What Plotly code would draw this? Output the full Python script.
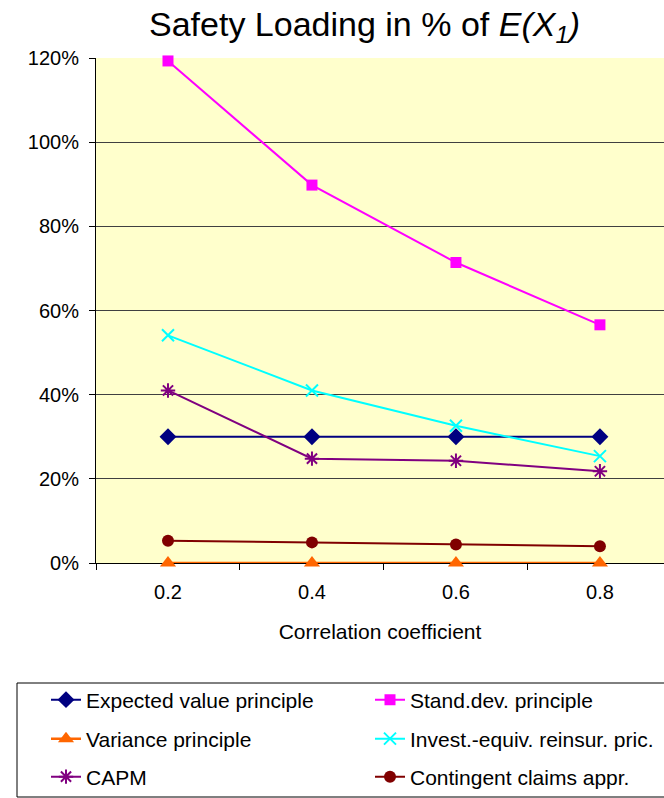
import plotly.graph_objects as go

# Correlation coefficients on the x axis
correlation = [0.2, 0.4, 0.6, 0.8]

# Safety loading (% of E(X1)) per pricing principle
expected_value = [30.0, 30.0, 30.0, 30.0]
stand_dev = [119.3, 89.8, 71.4, 56.6]
variance = [0.0, 0.0, 0.0, 0.0]
invest_equiv = [54.1, 41.0, 32.6, 25.4]
capm = [41.0, 24.8, 24.3, 21.8]
contingent = [5.3, 4.9, 4.4, 4.0]

y_ticks = [0, 20, 40, 60, 80, 100, 120]
y_tick_labels = ["0%", "20%", "40%", "60%", "80%", "100%", "120%"]
x_tick_labels = ["0.2", "0.4", "0.6", "0.8"]

FONT = "Arial, 'Liberation Sans', sans-serif"

# name, values, colour, marker symbol, marker size, line width, legend row
series = [
    ("Expected value principle", expected_value, "#000080", "diamond", 13, 2, "legend"),
    ("Stand.dev. principle", stand_dev, "#FF00FF", "square", 11, 2, "legend"),
    ("Variance principle", variance, "#FF6600", "triangle-up", 14, 2.5, "legend2"),
    ("Invest.-equiv. reinsur. pric.", invest_equiv, "#00FFFF", "x-thin-open", 12, 2, "legend2"),
    ("CAPM", capm, "#800080", "asterisk-open", 12, 2, "legend3"),
    ("Contingent claims appr.", contingent, "#800000", "circle", 12, 2, "legend3"),
]

fig = go.Figure()
for name, values, color, symbol, size, lw, leg in series:
    marker = dict(symbol=symbol, size=size, color=color)
    if symbol.endswith("-open"):
        marker["line"] = dict(color=color, width=2)
    fig.add_trace(go.Scatter(
        x=correlation, y=values, name=name, mode="lines+markers",
        line=dict(color=color, width=lw), marker=marker, cliponaxis=False,
        legend=leg,
    ))

# plot area: x from 96 to 664 px, y from 58 to 563 px
PW, PH, PT = 568.0, 505.0, 58.0


def px_to_paper_x(px):
    return (px - 96.0) / PW


def px_to_paper_y(py):
    return (PT + PH - py) / PH


legend_common = dict(
    orientation="h",
    xanchor="left", xref="paper",
    yanchor="middle", yref="paper",
    bgcolor="rgba(0,0,0,0)", borderwidth=0,
    font=dict(family=FONT, size=21, color="black"),
    entrywidth=279, entrywidthmode="pixels",
    itemwidth=30,
    traceorder="normal",
)

fig.update_layout(
    width=664, height=798,
    margin=dict(l=96, r=0, t=58, b=235, autoexpand=False),
    paper_bgcolor="white",
    plot_bgcolor="#FFFFCC",
    font=dict(family=FONT, color="black", size=20),
    title=dict(
        text="Safety Loading in % of <i>E(X<sub>1</sub>)</i>",
        font=dict(family=FONT, size=34, color="black"),
        x=364.5 / 664, xanchor="center", xref="container",
        y=1 - 12 / 798, yanchor="top",
    ),
    showlegend=True,
    legend=dict(legend_common, x=px_to_paper_x(46), y=px_to_paper_y(700)),
    legend2=dict(legend_common, x=px_to_paper_x(46), y=px_to_paper_y(739)),
    legend3=dict(legend_common, x=px_to_paper_x(46), y=px_to_paper_y(777)),
    shapes=[dict(
        type="rect", xref="paper", yref="paper",
        x0=px_to_paper_x(17), x1=px_to_paper_x(680),
        y0=px_to_paper_y(683), y1=px_to_paper_y(797),
        line=dict(color="black", width=1), fillcolor="rgba(0,0,0,0)",
    )],
)

fig.update_xaxes(
    range=[0.1, 0.889],
    tickvals=correlation, ticktext=x_tick_labels,
    ticks="", ticklabelstandoff=11,
    tickfont=dict(size=20),
    minor=dict(ticks="outside", tick0=0.1, dtick=0.2, ticklen=6,
               tickcolor="black", showgrid=False),
    showgrid=False, zeroline=False,
    showline=True, linecolor="black", linewidth=1,
    layer="below traces",
    title=dict(text="Correlation coefficient", font=dict(size=21), standoff=22),
)

fig.update_yaxes(
    range=[0, 120],
    tickvals=y_ticks, ticktext=y_tick_labels,
    ticks="outside", ticklen=6, tickcolor="black",
    ticklabelstandoff=6,
    tickfont=dict(size=20),
    showgrid=True, gridcolor="#404040", gridwidth=1,
    zeroline=False,
    showline=True, linecolor="black", linewidth=1,
    layer="below traces",
)

fig.write_html("out.html")
